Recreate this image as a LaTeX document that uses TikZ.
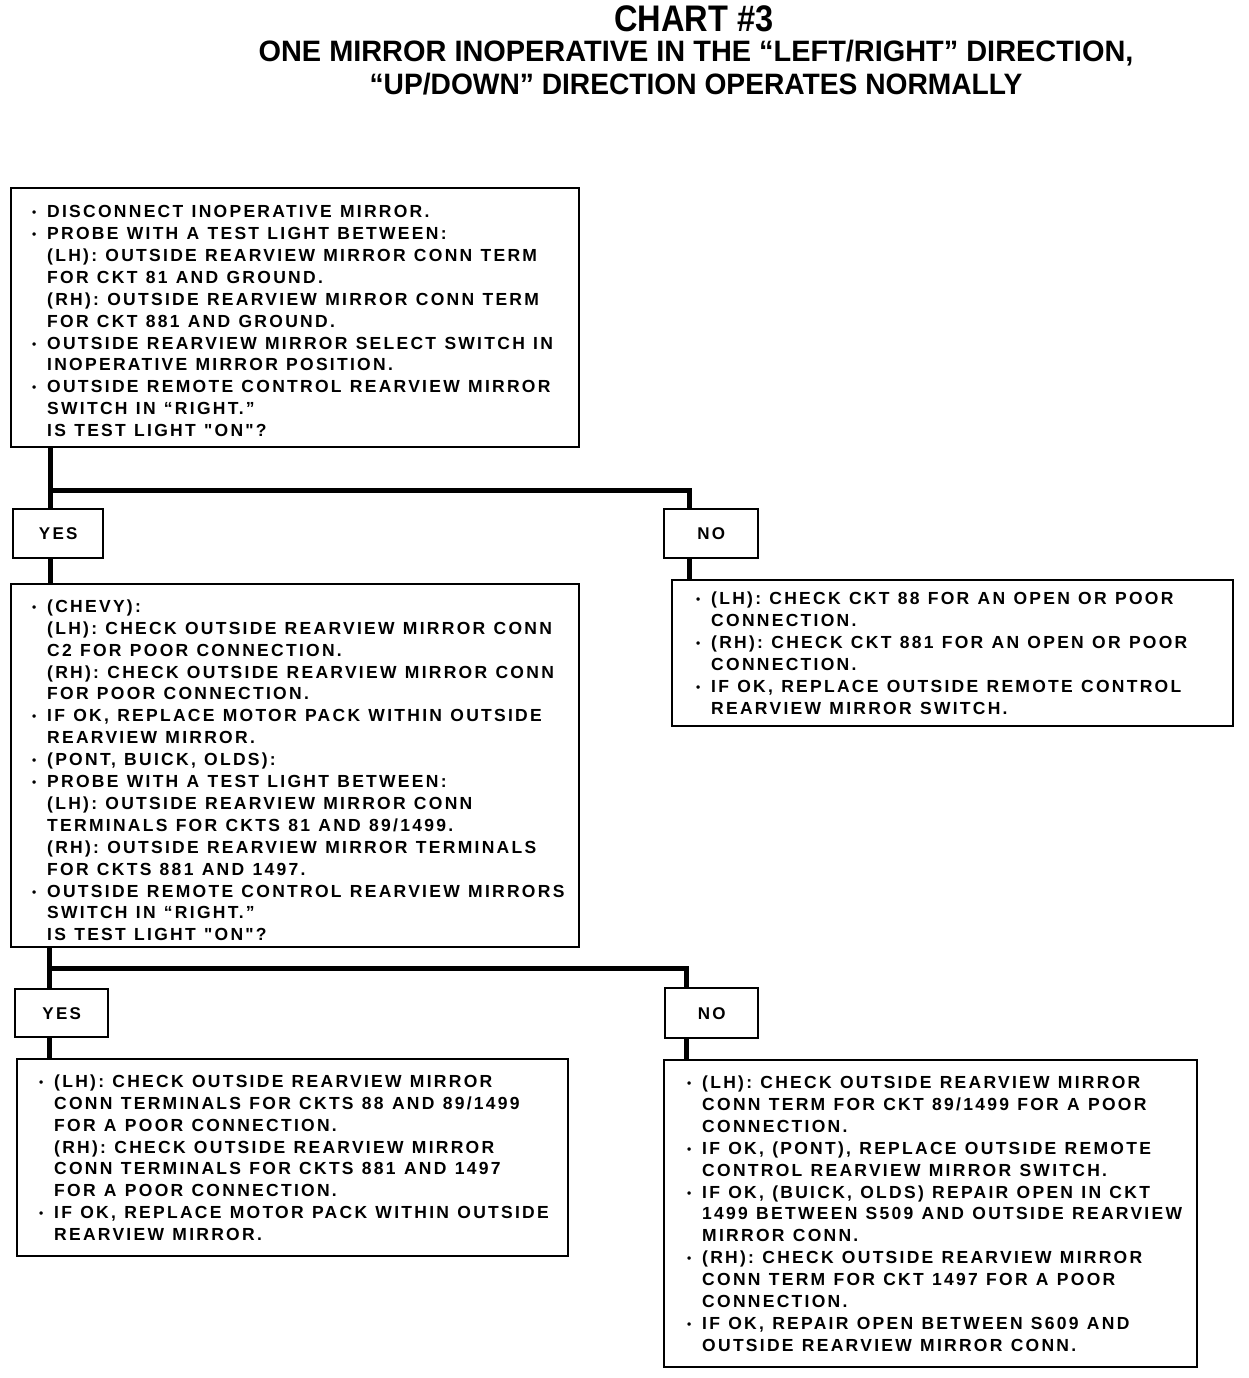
\documentclass[tikz,border=0pt]{standalone}
\usepackage{fontspec}
\newfontfamily\bodyfont{Liberation Sans}[LetterSpace=13]
\newfontfamily\titlefont{Liberation Sans}[FakeStretch=0.88]
\newfontfamily\subtitlefont{Liberation Sans}[FakeStretch=0.98]
\newfontfamily\subtitlefontb{Liberation Sans}[FakeStretch=0.955]
\newlength\lgap
\setlength\lgap{21pt}
\newcommand\bul{\hspace*{\lgap}\makebox[15pt][l]{\raisebox{1pt}{\fontsize{12}{12}\selectfont•}}}
\newcommand\ind{\hspace*{\lgap}\hspace*{15pt}}
\newcommand\topgap[1]{\rule{0pt}{#1}}
\newskip\mywordskip
\mywordskip=8.3pt plus 0.5pt minus 0.5pt
\protected\def\widespaces{\spaceskip=\mywordskip\relax}
\protected\def\setgap#1{\setlength\lgap{#1}}
\begin{document}
\begin{tikzpicture}[x=1pt,y=-1pt,
  box/.style={draw,line width=2.4pt,anchor=north west,align=left,inner xsep=0pt,inner ysep=0pt,
    font=\bodyfont\bfseries\fontsize{17.5}{21.9}\selectfont},
  gap/.style={execute at begin node={\widespaces\setgap{#1}}},
  lbl/.style={draw,line width=2.4pt,anchor=north west,align=center,inner sep=0pt,
    font=\bodyfont\bfseries\fontsize{17}{21.9}\selectfont},
  conn/.style={line width=5pt},
  ttl/.style={inner sep=0pt}]
\path[use as bounding box] (0,0) rectangle (1248,1378);

\node[ttl,font=\titlefont\bfseries\fontsize{37}{40}\selectfont] (t1) at (694,19) {CHART \#3};
\node[ttl,font=\subtitlefont\bfseries\fontsize{29.5}{31}\selectfont] (t2) at (696,53) {ONE MIRROR INOPERATIVE IN THE “LEFT/RIGHT” DIRECTION,};
\node[ttl,font=\subtitlefontb\bfseries\fontsize{29.5}{31}\selectfont] (t3) at (696,84) {“UP/DOWN” DIRECTION OPERATES NORMALLY};

\node[box,gap=21pt,minimum width=568pt,minimum height=259pt,text width=568pt] (box1) at (10,187) {%
\topgap{19pt}\bul DISCONNECT INOPERATIVE MIRROR.\\
\bul PROBE WITH A TEST LIGHT BETWEEN:\\
\ind (LH): OUTSIDE REARVIEW MIRROR CONN TERM\\
\ind FOR CKT 81 AND GROUND.\\
\ind (RH): OUTSIDE REARVIEW MIRROR CONN TERM\\
\ind FOR CKT 881 AND GROUND.\\
\bul OUTSIDE REARVIEW MIRROR SELECT SWITCH IN\\
\ind INOPERATIVE MIRROR POSITION.\\
\bul OUTSIDE REMOTE CONTROL REARVIEW MIRROR\\
\ind SWITCH IN “RIGHT.”\\
\ind IS TEST LIGHT "ON"?};

\node[lbl,minimum width=90pt,minimum height=49pt] (yes1) at (12,508) {YES};
\node[lbl,minimum width=94pt,minimum height=49pt] (no1) at (663,508) {NO};

\node[box,gap=21pt,minimum width=568pt,minimum height=363pt,text width=568pt] (box2) at (10,583) {%
\topgap{22pt}\bul (CHEVY):\\
\ind (LH): CHECK OUTSIDE REARVIEW MIRROR CONN\\
\ind C2 FOR POOR CONNECTION.\\
\ind (RH): CHECK OUTSIDE REARVIEW MIRROR CONN\\
\ind FOR POOR CONNECTION.\\
\bul IF OK, REPLACE MOTOR PACK WITHIN OUTSIDE\\
\ind REARVIEW MIRROR.\\
\bul (PONT, BUICK, OLDS):\\
\bul PROBE WITH A TEST LIGHT BETWEEN:\\
\ind (LH): OUTSIDE REARVIEW MIRROR CONN\\
\ind TERMINALS FOR CKTS 81 AND 89/1499.\\
\ind (RH): OUTSIDE REARVIEW MIRROR TERMINALS\\
\ind FOR CKTS 881 AND 1497.\\
\bul OUTSIDE REMOTE CONTROL REARVIEW MIRRORS\\
\ind SWITCH IN “RIGHT.”\\
\ind IS TEST LIGHT "ON"?};

\node[box,gap=24pt,minimum width=561pt,minimum height=146pt,text width=561pt] (box3) at (671,579) {%
\bul (LH): CHECK CKT 88 FOR AN OPEN OR POOR\\
\ind CONNECTION.\\
\bul (RH): CHECK CKT 881 FOR AN OPEN OR POOR\\
\ind CONNECTION.\\
\bul IF OK, REPLACE OUTSIDE REMOTE CONTROL\\
\ind REARVIEW MIRROR SWITCH.};

\node[lbl,minimum width=93pt,minimum height=48pt] (yes2) at (14,988) {YES};
\node[lbl,minimum width=93pt,minimum height=50pt] (no2) at (664,987) {NO};

\node[box,gap=22pt,minimum width=551pt,minimum height=197pt,text width=551pt] (box4) at (16,1058) {%
\bul (LH): CHECK OUTSIDE REARVIEW MIRROR\\
\ind CONN TERMINALS FOR CKTS 88 AND 89/1499\\
\ind FOR A POOR CONNECTION.\\
\ind (RH): CHECK OUTSIDE REARVIEW MIRROR\\
\ind CONN TERMINALS FOR CKTS 881 AND 1497\\
\ind FOR A POOR CONNECTION.\\
\bul IF OK, REPLACE MOTOR PACK WITHIN OUTSIDE\\
\ind REARVIEW MIRROR.};

\node[box,gap=23pt,minimum width=533pt,minimum height=307pt,text width=533pt] (box5) at (663,1059) {%
\bul (LH): CHECK OUTSIDE REARVIEW MIRROR\\
\ind CONN TERM FOR CKT 89/1499 FOR A POOR\\
\ind CONNECTION.\\
\bul IF OK, (PONT), REPLACE OUTSIDE REMOTE\\
\ind CONTROL REARVIEW MIRROR SWITCH.\\
\bul IF OK, (BUICK, OLDS) REPAIR OPEN IN CKT\\
\ind 1499 BETWEEN S509 AND OUTSIDE REARVIEW\\
\ind MIRROR CONN.\\
\bul (RH): CHECK OUTSIDE REARVIEW MIRROR\\
\ind CONN TERM FOR CKT 1497 FOR A POOR\\
\ind CONNECTION.\\
\bul IF OK, REPAIR OPEN BETWEEN S609 AND\\
\ind OUTSIDE REARVIEW MIRROR CONN.};

\coordinate (j1) at (50,490);
\coordinate (k1) at (689,490);
\coordinate (j2) at (49,968);
\coordinate (k2) at (686,968);

\draw[conn] (box1.south -| j1) -- (yes1.north -| j1);
\draw[conn] (j1) -- (k1) -- (no1.north -| k1);
\draw[conn] (yes1.south -| j1) -- (box2.north -| j1);
\draw[conn] (no1.south -| k1) -- (box3.north -| k1);
\draw[conn] (box2.south -| j2) -- (yes2.north -| j2);
\draw[conn] (j2) -- (k2) -- (no2.north -| k2);
\draw[conn] (yes2.south -| j2) -- (box4.north -| j2);
\draw[conn] (no2.south -| k2) -- (box5.north -| k2);
\end{tikzpicture}
\end{document}
